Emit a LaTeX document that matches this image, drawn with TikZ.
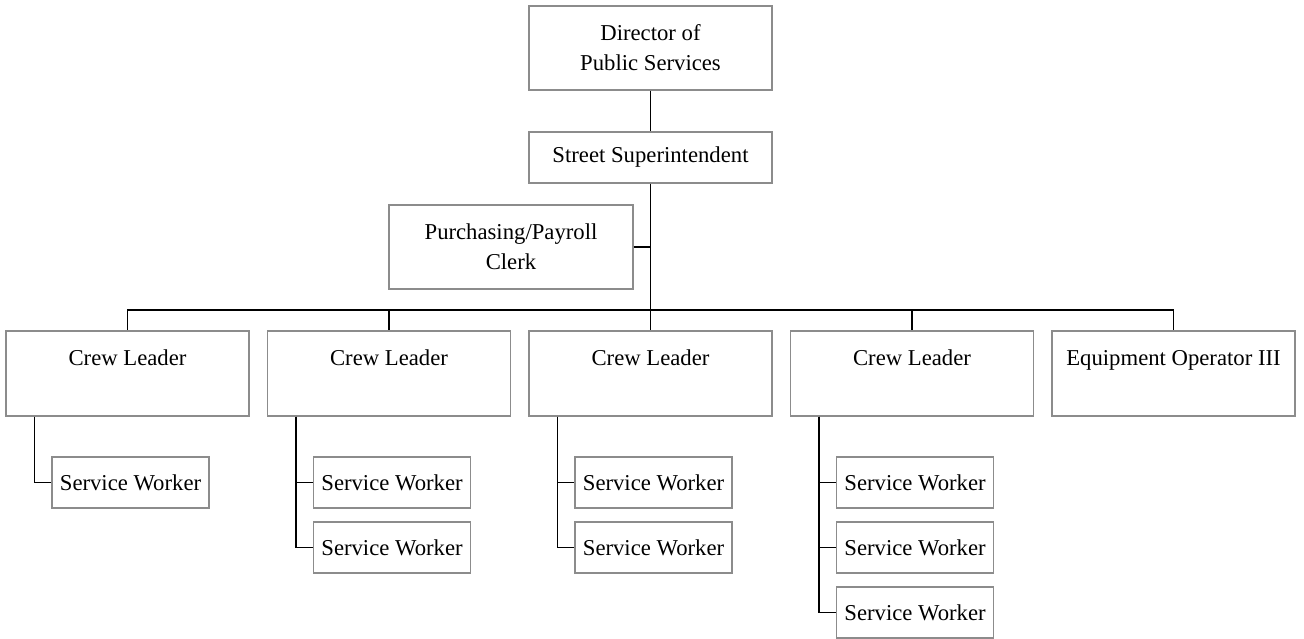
\documentclass[tikz,border=0pt]{standalone}
\usepackage{fontspec}
\setmainfont{Liberation Serif}
\newfontfamily\orgfont{Liberation Serif}
\definecolor{boxgray}{HTML}{8C8C8C}
\tikzset{
  box/.style={draw=boxgray, line width=0.65pt, fill=white, inner sep=0pt, align=center,
    font=\orgfont\fontsize{11.35}{15}\selectfont},
  crewbox/.style={box, minimum width=121.5pt, text height=17pt, text depth=25.5pt},
  workerbox/.style={box, minimum width=78.5pt, minimum height=25.5pt},
  link/.style={line width=0.75pt}
}
\begin{document}
\begin{tikzpicture}[x=0.5pt, y=-0.5pt]
    \useasboundingbox (0,0) rectangle (1304,638);
    \node[box, minimum width=121.5pt, minimum height=42pt] (dir) at (650.5,48) {Director of\\Public Services};
    \node[box, minimum width=121.5pt, minimum height=25.5pt] (sup) at (650.5,157.5) {Street Superintendent};
    \node[box, minimum width=122pt, minimum height=42pt] (clerk) at (511,247) {Purchasing/Payroll\\Clerk};
    \coordinate (bus) at (650.5,310);
    \draw[link] (dir) -- (sup);
    \draw[link] (sup) -- (bus);
    \draw[link] (clerk.east) -- (clerk.east -| bus);
    \foreach \i/\x/\t in {1/127.5/Crew Leader, 2/389/Crew Leader, 3/650.5/Crew Leader, 4/912/Crew Leader, 5/1173.5/Equipment Operator III} {
        \node[crewbox] (c\i) at (\x,373.5) {\t};
        \draw[link] (bus) -| (c\i.north);
    }
    % service workers under each crew leader
    \foreach \i/\x/\n in {1/127.5/1, 2/389/2, 3/650.5/2, 4/912/3} {
        \coordinate (t\i) at ([xshift=14.5pt]c\i.south west);
        \foreach \j in {1,...,\n} {
            \node[workerbox] (w\i\j) at (\x+3, {417.5+65*\j}) {Service Worker};
            \draw[link] (t\i) |- (w\i\j.west);
        }
    }
\end{tikzpicture}
\end{document}
